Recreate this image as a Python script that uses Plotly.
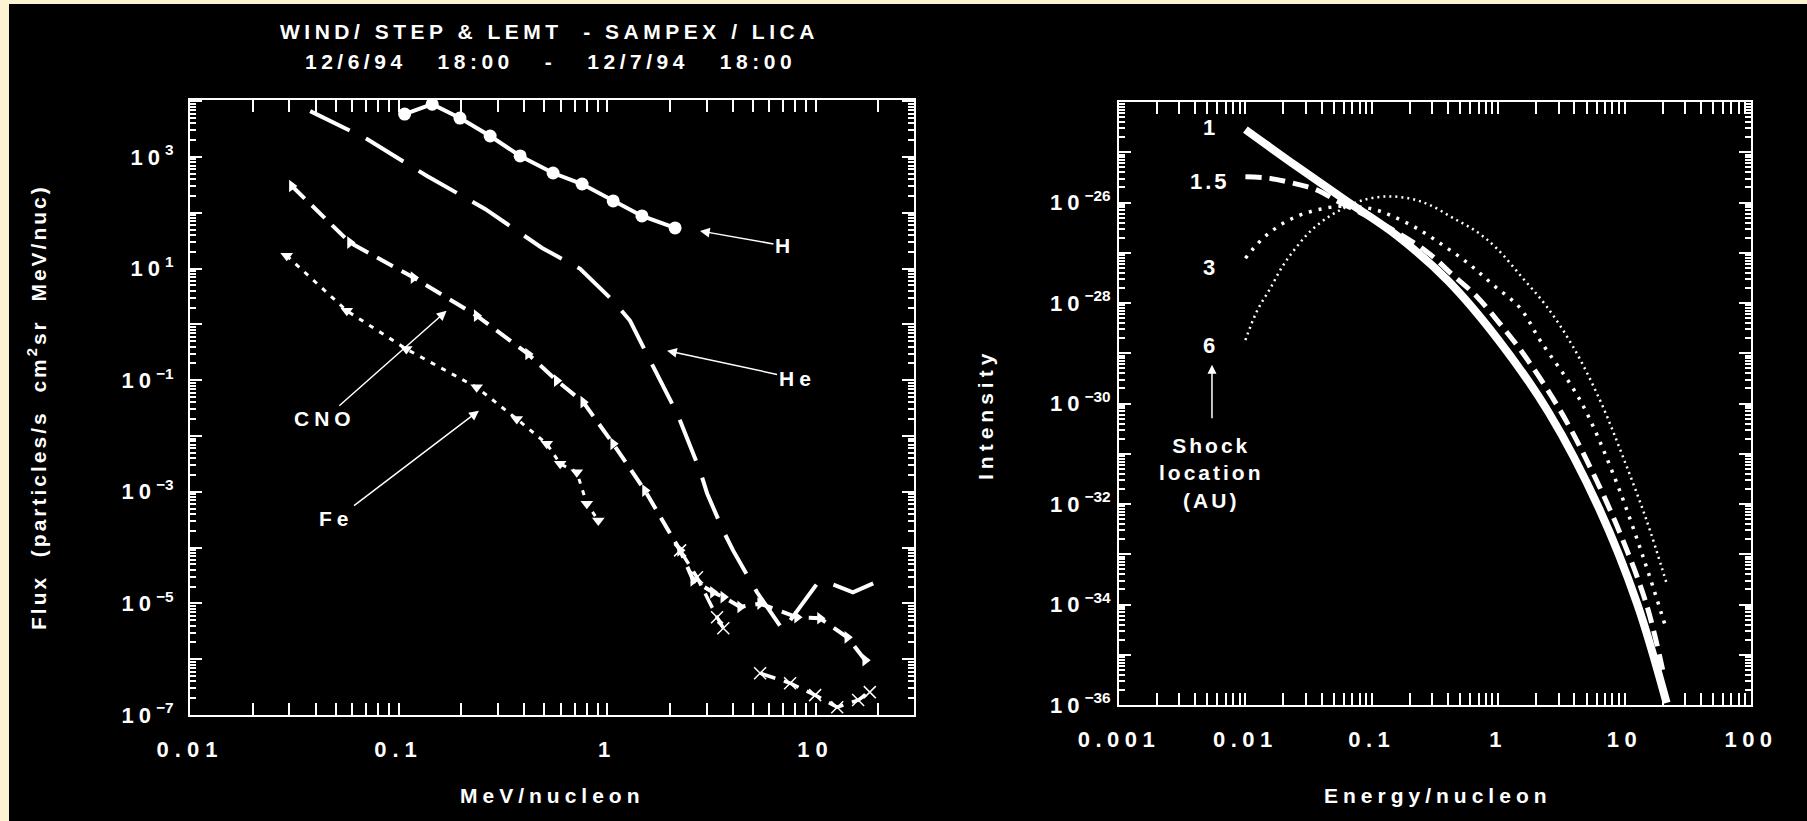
import numpy as np
import plotly.graph_objects as go

# ---------------- data: left panel (particle fluence spectra) ----------------
h_energy = [0.107, 0.145, 0.197, 0.275, 0.383, 0.551, 0.759, 1.07, 1.47, 2.12]
h_flux = [5850, 8830, 4970, 2370, 1040, 515, 327, 163, 87.7, 53.5]

he_energy = [0.0377, 0.0706, 0.137, 0.260, 0.488, 0.743, 1.07, 1.29, 1.61, 2.17, 2.79,
             3.02, 3.60, 4.02, 5.24, 5.85, 6.98, 10.2, 11.7, 15.1, 18.9]
he_flux = [6620, 2090, 455, 117, 23.4, 9.89, 2.64, 1.16, 0.223, 0.0252, 2.40e-3,
           9.33e-4, 2.03e-4, 8.91e-5, 1.58e-5, 8.51e-6, 3.30e-6, 2.29e-5, 2.29e-5, 1.58e-5, 2.29e-5]

cno_energy = [0.0308, 0.0585, 0.118, 0.237, 0.418, 0.574, 0.769, 1.07, 1.52, 2.24, 2.59,
              3.22, 3.61, 4.35, 5.42, 8.15, 10.5, 14.2, 17.3]
cno_flux = [301, 29.2, 6.90, 1.43, 0.294, 0.098, 0.0403, 7.23e-3, 1.05e-3, 8.91e-5, 2.59e-5,
            1.58e-5, 1.30e-5, 8.63e-6, 9.91e-6, 5.64e-6, 5.41e-6, 2.47e-6, 9.59e-7]

fe_energy = [0.0291, 0.0565, 0.109, 0.237, 0.369, 0.514, 0.596, 0.716, 0.800, 0.908]
fe_flux = [16.9, 1.75, 0.361, 0.0743, 0.0202, 7.23e-3, 3.17e-3, 2.24e-3, 6.10e-4, 3.07e-4]

hi_energy = [2.24, 2.70, 3.37, 3.61, None, 5.42, 7.55, 9.95, 12.7, 16.0, 18.2]
hi_flux = [8.91e-5, 2.93e-5, 5.64e-6, 3.59e-6, None, 5.62e-7, 3.72e-7, 2.27e-7, 1.38e-7, 1.85e-7, 2.57e-7]

# ---------------- data: right panel (model intensity vs shock location) ----------------
s1_energy = [0.010, 0.0251, 0.0631, 0.158, 0.398, 1.0, 2.51, 6.31, 12.6, 21.5]
s1_int = [2.82e-25, 5.37e-26, 1.07e-26, 2.19e-27, 2.82e-28, 1.86e-29, 6.61e-31, 7.94e-33,
          1.02e-34, 1.10e-36]

s15_energy = [0.010, 0.0157, 0.0270, 0.0366, 0.0562, 0.126, 0.272, 0.440, 0.676, 1.10, 1.57,
              3.08, 5.32, 9.20, 14.9, 20.4]
s15_int = [3.24e-26, 3.02e-26, 2.24e-26, 1.78e-26, 1.0e-26, 3.55e-27, 1.05e-27, 3.55e-28,
           1.35e-28, 3.16e-29, 1.0e-29, 7.41e-31, 5.50e-32, 2.63e-33, 1.0e-34, 4.0e-36]

s3_energy = [0.010, 0.0116, 0.0147, 0.0200, 0.0270, 0.0366, 0.0527, 0.0759, 0.109, 0.148, 0.226,
             0.366, 0.598, 0.912, 1.49, 2.14, 4.44, 8.09, 14.0, 21.5]
s3_int = [7.76e-28, 1.23e-27, 2.24e-27, 3.89e-27, 5.62e-27, 7.08e-27, 8.32e-27, 8.32e-27,
          7.08e-27, 5.25e-27, 3.09e-27, 1.41e-27, 5.75e-28, 2.29e-28, 7.94e-29, 1.82e-29,
          1.17e-30, 4.07e-32, 8.91e-34, 3.09e-35]

s6_energy = [0.010, 0.0123, 0.0157, 0.0200, 0.0255, 0.0324, 0.0440, 0.0594, 0.0855, 0.131, 0.200,
             0.288, 0.440, 0.676, 0.971, 1.57, 2.42, 3.91, 6.38, 9.70, 14.9, 21.5]
s6_int = [1.82e-29, 6.76e-29, 1.95e-28, 5.75e-28, 1.32e-27, 2.63e-27, 4.90e-27, 7.59e-27,
          1.12e-26, 1.32e-26, 1.20e-26, 8.91e-27, 4.90e-27, 2.63e-27, 1.23e-27, 3.09e-28,
          8.51e-29, 1.35e-29, 1.17e-30, 8.71e-32, 4.79e-33, 2.63e-34]

# ---------------- text ----------------
title_line1 = "WIND/ STEP & LEMT  - SAMPEX / LICA"
title_line2 = "12/6/94   18:00   -   12/7/94   18:00"
left_xtitle = "MeV/nucleon"
left_ytitle = "Flux  (particles/s  cm<sup>2</sup>sr  MeV/nuc)"
right_xtitle = "Energy/nucleon"
right_ytitle = "Intensity"

left_xtick_vals = [0.01, 0.1, 1, 10]
left_xtick_text = ["0.01", "0.1", "1", "10"]
right_xtick_vals = [0.001, 0.01, 0.1, 1, 10, 100]
right_xtick_text = ["0.001", "0.01", "0.1", "1", "10", "100"]
left_y_labelled = [3, 1, -1, -3, -5, -7]
left_y_unlabelled = [4, 2, 0, -2, -4, -6]
right_y_labelled = [-26, -28, -30, -32, -34, -36]
right_y_unlabelled = [-24, -25, -27, -29, -31, -33, -35]

species_labels = ["H", "He", "CNO", "Fe"]
species_arrow_x = [2.79, 1.94, 0.170, 0.243]
species_arrow_y = [47.2, 0.337, 1.75, 0.0284]
species_text_dx = [85, 130, -122, -142]
species_text_dy = [15, 28, 108, 108]

shock_labels = ["1", "1.5", "3", "6"]
shock_label_x = 0.00525
shock_label_y = [3.04e-25, 2.57e-26, 5.0e-28, 1.45e-29]

FG = "#ffffff"
BG = "#000000"
CREAM = "#fbf3d2"
FONT = "Liberation Sans, Arial, sans-serif"
W, H = 1807, 821


def sp(t, ls=4):
    return f'<span style="letter-spacing:{ls}px">{t}</span>'


def sup(e):
    s = str(e).replace("-", "\u2212")
    return sp("10", 5) + "<sup>" + s + "</sup>"


def minor_vals(lo, hi):
    out = []
    for d in range(lo, hi + 1):
        for m in range(2, 10):
            out.append(m * 10.0 ** d)
    return out


fig = go.Figure()


def add(x, y, xa, ya, **kw):
    fig.add_trace(go.Scatter(x=x, y=y, xaxis=xa, yaxis=ya, showlegend=False,
                             hoverinfo="skip", **kw))


# left panel traces
add(h_energy, h_flux, "x", "y", mode="lines+markers",
    line=dict(color=FG, width=4), marker=dict(symbol="circle", size=13, color=FG))
add(he_energy, he_flux, "x", "y", mode="lines",
    line=dict(color=FG, width=4, dash="44px,18px"))
add(cno_energy, cno_flux, "x", "y", mode="lines+markers",
    line=dict(color=FG, width=4, dash="18px,10px"),
    marker=dict(symbol="triangle-right", size=11, color=FG))
add(fe_energy, fe_flux, "x", "y", mode="lines+markers",
    line=dict(color=FG, width=3, dash="5px,7px"),
    marker=dict(symbol="triangle-down", size=11, color=FG))
add(hi_energy, hi_flux, "x", "y", mode="lines+markers", connectgaps=False,
    line=dict(color=FG, width=3.5, dash="16px,9px"),
    marker=dict(symbol="x-thin", size=12, color=FG, line=dict(color=FG, width=1.5)))

# right panel traces
add(s1_energy, s1_int, "x2", "y2", mode="lines",
    line=dict(color=FG, width=8, shape="spline", smoothing=1))
add(s15_energy, s15_int, "x2", "y2", mode="lines",
    line=dict(color=FG, width=5, dash="16px,8px", shape="spline", smoothing=1))
add(s3_energy, s3_int, "x2", "y2", mode="lines",
    line=dict(color=FG, width=3.5, dash="3px,7px", shape="spline", smoothing=1))
add(s6_energy, s6_int, "x2", "y2", mode="lines",
    line=dict(color=FG, width=2.5, dash="2px,4px", shape="spline", smoothing=1))

# empty traces so the overlay axes (long unlabelled decade ticks) get drawn
add([], [], "x", "y3", mode="lines")
add([], [], "x2", "y4", mode="lines")

axis_common = dict(
    type="log", showgrid=False, zeroline=False, showline=True, linecolor=FG, linewidth=2,
    ticks="inside", ticklen=12, tickwidth=2, tickcolor=FG, mirror="allticks", automargin=False,
    tickfont=dict(size=22, color=FG, family=FONT, weight="bold"), tickmode="array",
)


def minor(lo, hi):
    return dict(ticks="inside", ticklen=6, tickwidth=1.5, tickcolor=FG, showgrid=False,
                tickmode="array", tickvals=minor_vals(lo, hi))


LEFT_Y_RANGE = [-7, 4.02]
RIGHT_Y_RANGE = [-36, -24]

fig.update_layout(
    width=W, height=H, margin=dict(l=0, r=0, t=0, b=0, pad=0, autoexpand=False), autosize=False,
    paper_bgcolor=CREAM, plot_bgcolor=BG,
    font=dict(family=FONT, size=21, color=FG, weight="bold"),
    xaxis=dict(axis_common, domain=[190 / W, 914 / W], range=[-2, 1.472], anchor="y",
               tickvals=left_xtick_vals, ticktext=[sp(t, 6) for t in left_xtick_text],
               ticklabelstandoff=14, minor=minor(-2, 1)),
    yaxis=dict(axis_common, domain=[1 - 715 / H, 1 - 100 / H], range=LEFT_Y_RANGE, anchor="x",
               tickvals=[10.0 ** e for e in left_y_labelled],
               ticktext=[sup(e) for e in left_y_labelled],
               ticklabelstandoff=10, minor=minor(-7, 3)),
    yaxis3=dict(axis_common, overlaying="y", anchor="x", side="left", range=LEFT_Y_RANGE,
                tickvals=[10.0 ** e for e in left_y_unlabelled], showticklabels=False),
    xaxis2=dict(axis_common, domain=[1119 / W, 1751 / W], range=[-3, 2], anchor="y2",
                tickvals=right_xtick_vals, ticktext=[sp(t, 5.5) for t in right_xtick_text],
                ticklabelstandoff=14, minor=minor(-3, 1)),
    yaxis2=dict(axis_common, domain=[1 - 705 / H, 1 - 102 / H], range=RIGHT_Y_RANGE, anchor="x2",
                tickvals=[10.0 ** e for e in right_y_labelled],
                ticktext=[sup(e) for e in right_y_labelled],
                ticklabelstandoff=2, minor=minor(-36, -25)),
    yaxis4=dict(axis_common, overlaying="y2", anchor="x2", side="left", range=RIGHT_Y_RANGE,
                tickvals=[10.0 ** e for e in right_y_unlabelled], showticklabels=False),
)

# cream page border (left and top edges), black page elsewhere
fig.add_shape(type="rect", xref="paper", yref="paper", x0=9 / W, x1=1.01, y0=-0.01, y1=1 - 4 / H,
              fillcolor=BG, line=dict(width=0), layer="below")


def paper_text(x, y, text, angle=0, size=21):
    fig.add_annotation(xref="paper", yref="paper", x=x / W, y=1 - y / H, showarrow=False,
                       xanchor="center", yanchor="middle", textangle=angle, text=text,
                       font=dict(size=size, color=FG))


# figure title
paper_text(549, 31, sp(title_line1, 4.5))
paper_text(550, 62, sp(title_line2, 4.5))

# axis titles
paper_text(552, 795, sp(left_xtitle, 5))
paper_text(37, 407, sp(left_ytitle, 3), angle=-90)
paper_text(1438, 795, sp(right_xtitle, 5))
paper_text(985, 415, sp(right_ytitle, 5), angle=-90)

# species labels with arrows (left panel)
for lab, hx, hy, dx, dy in zip(species_labels, species_arrow_x, species_arrow_y,
                               species_text_dx, species_text_dy):
    fig.add_annotation(xref="x", yref="y", x=np.log10(hx), y=np.log10(hy), text=sp(lab, 5),
                       showarrow=True, ax=dx, ay=dy, arrowhead=2, arrowsize=1.3,
                       arrowwidth=1.5, arrowcolor=FG, font=dict(size=21, color=FG))

# shock location labels (right panel)
for lab, ly in zip(shock_labels, shock_label_y):
    fig.add_annotation(xref="x2", yref="y2", x=np.log10(shock_label_x), y=np.log10(ly),
                       text=sp(lab, 3), showarrow=False, font=dict(size=22, color=FG))
fig.add_annotation(xref="x2", yref="y2", x=np.log10(0.00544), y=np.log10(4.2e-32),
                   text=sp("Shock", 3) + "<br>" + sp("location", 3) + "<br>" + sp("(AU)", 3),
                   showarrow=False, font=dict(size=21, color=FG))
fig.add_annotation(xref="x2", yref="y2", x=np.log10(0.00544), y=np.log10(5.9e-30), text="",
                   showarrow=True, ax=0, ay=55, arrowhead=2, arrowsize=1.2, arrowwidth=1.5,
                   arrowcolor=FG)

fig.write_html("out.html")
